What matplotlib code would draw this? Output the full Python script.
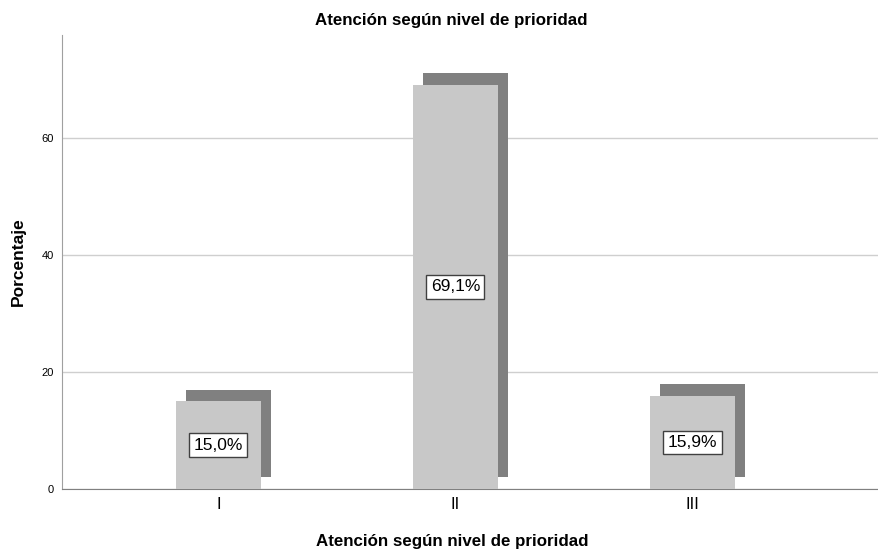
import matplotlib.pyplot as plt

plt.rcParams['font.family'] = ['Liberation Sans', 'DejaVu Sans']

categorias = ['I', 'II', 'III']
porcentajes = [15.0, 69.1, 15.9]
etiquetas = ['15,0%', '69,1%', '15,9%']

fig = plt.figure(figsize=(8.79, 5.52), dpi=100)
ax = fig.add_axes([0.0705, 0.1141, 0.9295, 0.8225])

x = list(range(len(categorias)))
ancho = 0.36
desp_x = 0.042   # desplazamiento horizontal de la sombra
desp_y = 2.0     # desplazamiento vertical de la sombra

# sombra detrás de cada barra
ax.bar([i + desp_x for i in x], porcentajes, width=ancho, bottom=desp_y,
       color='#808080', zorder=2)
ax.bar(x, porcentajes, width=ancho, color='#c8c8c8', zorder=3)

for i, v, txt in zip(x, porcentajes, etiquetas):
    ax.text(i, v / 2, txt, ha='center', va='center', fontsize=12.5, zorder=4,
            bbox=dict(boxstyle='square,pad=0.25', facecolor='white',
                      edgecolor='#404040', linewidth=1))

ax.set_xlim(-0.66, 2.787)
ax.set_ylim(0, 77.6)
ax.set_yticks([0, 20, 40, 60])
ax.set_xticks(x)
ax.set_xticklabels(categorias)
ax.yaxis.grid(True, color='#cfcfcf', linewidth=1, zorder=0)
ax.set_axisbelow(True)

for s in ['top', 'right']:
    ax.spines[s].set_visible(False)
ax.spines['left'].set_color('#a0a0a0')
ax.spines['bottom'].set_color('#808080')
ax.tick_params(axis='both', length=0, labelsize=8, pad=6)
ax.tick_params(axis='x', labelsize=12, pad=6)

ax.set_ylabel('Porcentaje', fontsize=12.5, fontweight='bold')
ax.yaxis.set_label_coords(-0.0539, 0.5)
ax.yaxis.label.set_va('center')
ax.set_xlabel('Atención según nivel de prioridad', fontsize=12.2, fontweight='bold')
ax.xaxis.set_label_coords(0.4776, -0.1145)
ax.xaxis.label.set_va('center')

fig.text(0.5134, 1 - 20 / 552, 'Atención según nivel de prioridad',
         fontsize=12.2, fontweight='bold', ha='center', va='center')

fig.savefig('out.png', dpi=100)
